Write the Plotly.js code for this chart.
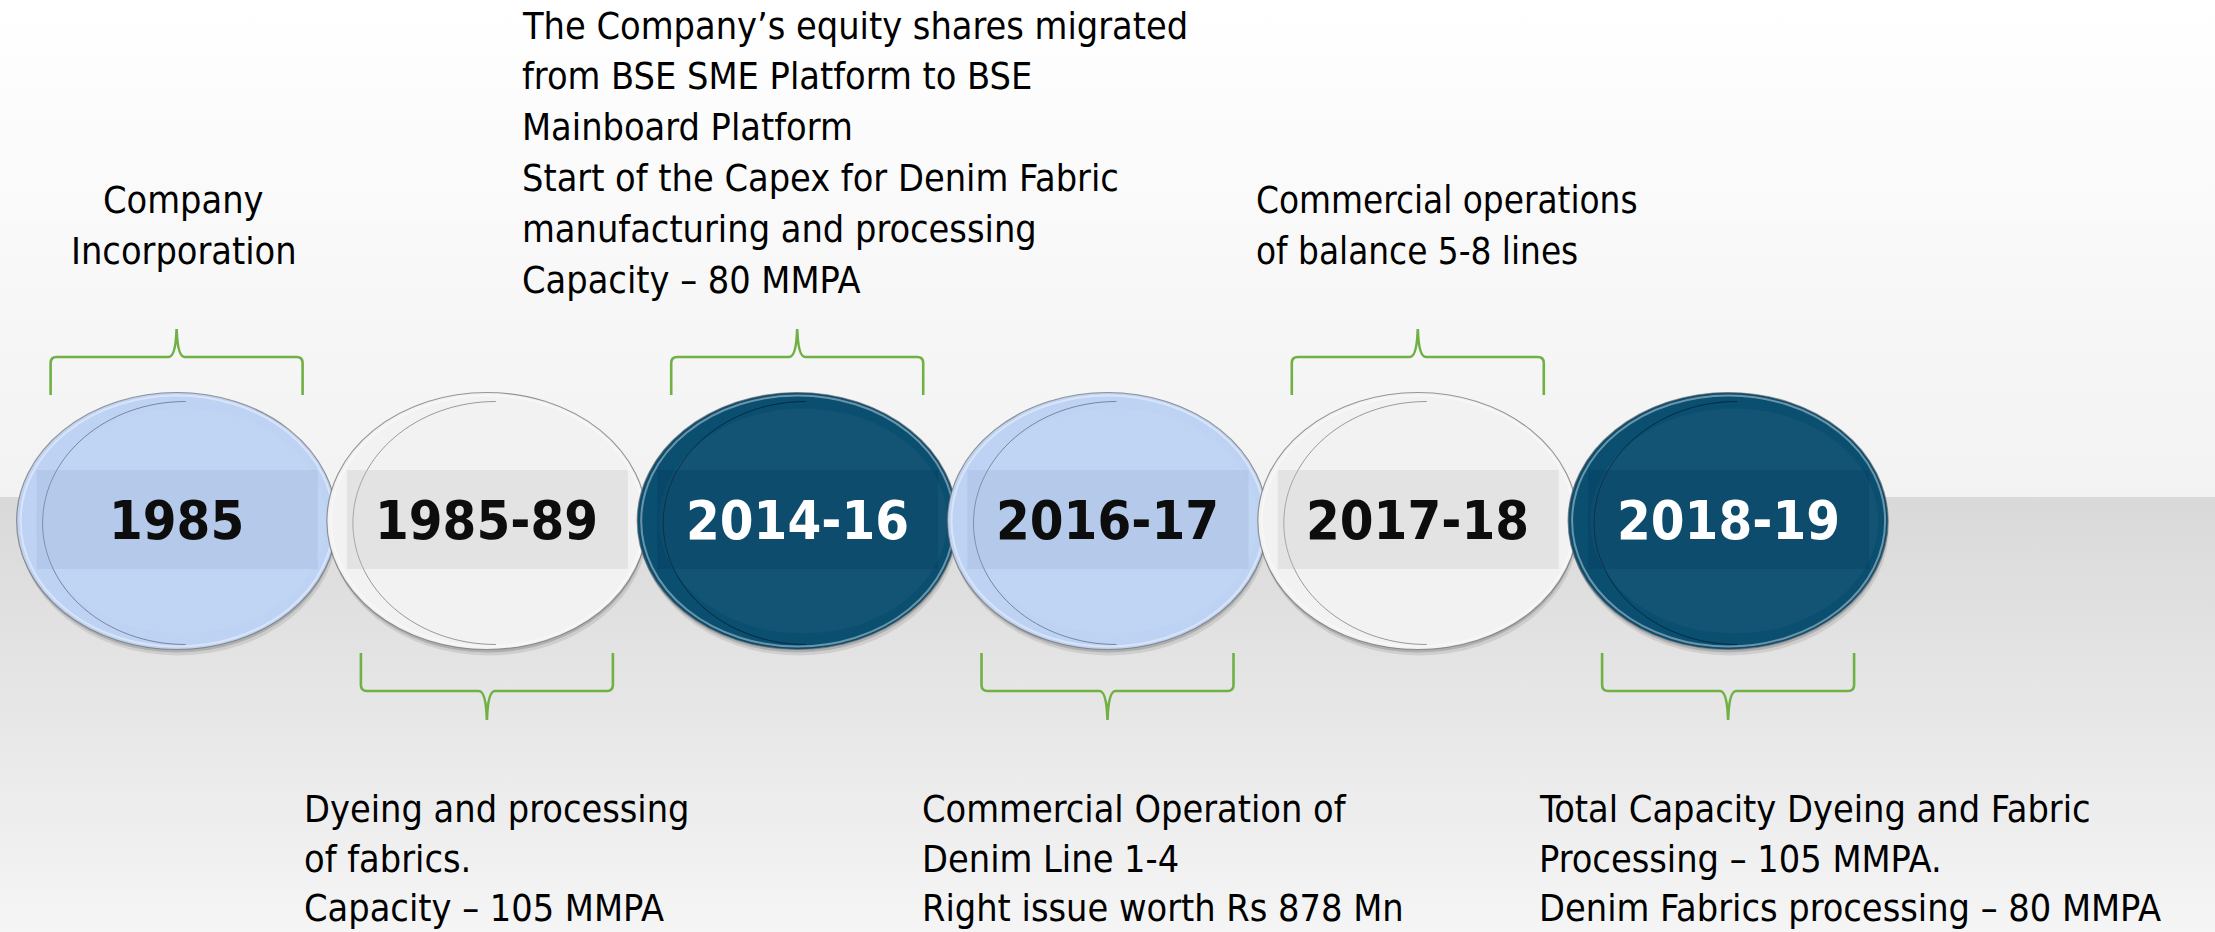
<!DOCTYPE html>
<html>
<head>
<meta charset="utf-8">
<script src="https://cdn.plot.ly/plotly-3.0.1.min.js"></script>
<style>
  html, body { margin: 0; padding: 0; background: #ffffff; }
  #chart { width: 2215px; height: 932px; }
</style>
</head>
<body>
<div id="chart"></div>
<script>
// ---------------- data ----------------
const years = ['1985', '1985-89', '2014-16', '2016-17', '2017-18', '2018-19'];
const sides = ['top', 'bottom', 'top', 'bottom', 'top', 'bottom'];
const tones = ['light', 'white', 'dark', 'light', 'white', 'dark'];
const notes = [
  ['Company', 'Incorporation'],
  ['Dyeing and processing', 'of fabrics.', 'Capacity – 105 MMPA'],
  ['The Company’s equity shares migrated', 'from BSE SME Platform to BSE', 'Mainboard Platform',
   'Start of the Capex for Denim Fabric', 'manufacturing and processing', 'Capacity – 80 MMPA'],
  ['Commercial Operation of', 'Denim Line 1-4', 'Right issue worth Rs 878 Mn'],
  ['Commercial operations', 'of balance 5-8 lines'],
  ['Total Capacity Dyeing and Fabric', 'Processing – 105 MMPA.', 'Denim Fabrics processing – 80 MMPA']
];

// ---------------- styles / layout constants ----------------
const W = 2215, H = 932;
const UNIT = 310.3;          // px per milestone step
const FIRST = 176.6;         // px of first milestone centre
const CY = 521;              // circle centre (px from top)
const RX = 160, RY = 128.5;  // ellipse radii (px)
const px = v => v / UNIT;    // px -> x units

const palette = {
  light: { fill: '#bed3f3', band: 'rgba(140,165,205,0.22)', text: '#0d0d0d', inner: 'rgba(60,70,90,0.55)' },
  white: { fill: '#f2f2f2', band: 'rgba(190,190,190,0.28)', text: '#0d0d0d', inner: 'rgba(80,80,80,0.55)' },
  dark:  { fill: '#0a4e70', band: 'rgba(0,50,80,0.22)',     text: '#ffffff', inner: 'rgba(0,20,35,0.6)' }
};
// note placement (px offset of text from circle centre, anchor)
const noteStyle = [
  { dx: 7,    anchor: 'center', font: 'calibri', size: 37.5 },
  { dx: -185, anchor: 'left',   font: 'calibri', size: 37.5 },
  { dx: -277, anchor: 'left',   font: 'calibri', size: 37.5 },
  { dx: -188, anchor: 'left',   font: 'calibri', size: 37.5 },
  { dx: -164, anchor: 'left',   font: 'arialn',  size: 36.5 },
  { dx: -191, anchor: 'left',   font: 'calibri', size: 37.5 }
];
const fonts = {
  calibri: '"DejaVu Sans Condensed", "Liberation Sans Narrow", "Open Sans", sans-serif',
  arialn: '"Liberation Sans Narrow", "DejaVu Sans Condensed", Arial, sans-serif'
};
const GREEN = '#71b045';
const LINE_GAP = 50.9;
const BOTTOM_GAP = 49.5;

const xMin = -FIRST / UNIT, xMax = (W - FIRST) / UNIT;

// ---------------- background ----------------
const traces = [];
traces.push({
  x: [xMin, xMax, xMax, xMin], y: [0, 0, 497, 497],
  fill: 'toself', mode: 'none', hoverinfo: 'skip', showlegend: false,
  fillgradient: { type: 'vertical', start: 0, stop: 497,
    colorscale: [[0, '#ffffff'], [1, '#f2f2f2']] }
});
traces.push({
  x: [xMin, xMax, xMax, xMin], y: [497, 497, H, H],
  fill: 'toself', mode: 'none', hoverinfo: 'skip', showlegend: false,
  fillgradient: { type: 'vertical', start: 497, stop: H,
    colorscale: [[0, '#d9d9d9'], [1, '#f5f5f5']] }
});

// ---------------- shapes ----------------
const shapes = [];
const K = 0.5523;
function halfEllipseLeft(cx, cy, rx, ry) {
  const r = px(rx);
  return `M ${cx},${cy - ry} C ${cx - K * r},${cy - ry} ${cx - r},${cy - K * ry} ${cx - r},${cy} ` +
         `C ${cx - r},${cy + K * ry} ${cx - K * r},${cy + ry} ${cx},${cy + ry}`;
}
function brace(cx, side) {
  const hw = px(126), c = px(6), t = px(8);
  let yEnd, yBar, yTip, s;
  if (side === 'top') { yEnd = 395; yBar = 357; yTip = 329; s = 1; }
  else { yEnd = 653; yBar = 691; yTip = 720; s = -1; }
  return `M ${cx - hw},${yEnd} L ${cx - hw},${yBar + 6 * s} Q ${cx - hw},${yBar} ${cx - hw + c},${yBar} ` +
         `L ${cx - t},${yBar} Q ${cx - px(1)},${yBar} ${cx},${yTip} Q ${cx + px(1)},${yBar} ${cx + t},${yBar} ` +
         `L ${cx + hw - c},${yBar} Q ${cx + hw},${yBar} ${cx + hw},${yBar + 6 * s} L ${cx + hw},${yEnd}`;
}

years.forEach((yr, i) => {
  const p = palette[tones[i]];
  const cx = i;
  // drop shadow
  shapes.push({ type: 'circle', xref: 'x', yref: 'y', layer: 'above',
    x0: cx - px(RX - 2), x1: cx + px(RX + 1), y0: CY - RY + 7, y1: CY + RY + 6,
    fillcolor: 'rgba(0,0,0,0.09)', line: { width: 0 } });
  shapes.push({ type: 'circle', xref: 'x', yref: 'y', layer: 'above',
    x0: cx - px(RX - 1), x1: cx + px(RX), y0: CY - RY + 3, y1: CY + RY + 3,
    fillcolor: 'rgba(0,0,0,0.15)', line: { width: 0 } });
  // body
  shapes.push({ type: 'circle', xref: 'x', yref: 'y', layer: 'above',
    x0: cx - px(RX), x1: cx + px(RX), y0: CY - RY, y1: CY + RY,
    fillcolor: p.fill, line: { color: 'rgba(110,110,110,0.7)', width: 1.2 } });
  // glossy rim
  shapes.push({ type: 'circle', xref: 'x', yref: 'y', layer: 'above',
    x0: cx - px(RX - 4), x1: cx + px(RX - 3), y0: CY - RY + 3, y1: CY + RY - 3,
    fillcolor: 'rgba(0,0,0,0)', line: { color: 'rgba(255,255,255,0.4)', width: 2 } });
  // inner arc near left edge
  shapes.push({ type: 'path', xref: 'x', yref: 'y', layer: 'above',
    path: halfEllipseLeft(cx + px(9), CY + 2, RX - 17, RY - 7),
    line: { color: p.inner, width: 1 } });
  // subtle inner highlight disc
  shapes.push({ type: 'circle', xref: 'x', yref: 'y', layer: 'above',
    x0: cx - px(RX - 22), x1: cx + px(RX - 10), y0: CY - RY + 16, y1: CY + RY - 16,
    fillcolor: 'rgba(255,255,255,0.04)', line: { width: 0 } });
  // label band
  shapes.push({ type: 'rect', xref: 'x', yref: 'y', layer: 'above',
    x0: cx - px(140), x1: cx + px(141), y0: CY - 51, y1: CY + 48,
    fillcolor: p.band, line: { width: 0 } });
  // brace
  shapes.push({ type: 'path', xref: 'x', yref: 'y', layer: 'above',
    path: brace(cx, sides[i]), line: { color: GREEN, width: 2.6 } });
});

// ---------------- annotations ----------------
const annotations = [];
// year labels
years.forEach((yr, i) => {
  annotations.push({
    x: i, y: CY - 1, xref: 'x', yref: 'y', text: yr, showarrow: false,
    xanchor: 'center', yanchor: 'middle',
    font: { family: fonts.calibri, size: 54, weight: 'bold', color: palette[tones[i]].text }
  });
});
// notes
notes.forEach((lines, i) => {
  const st = noteStyle[i];
  const n = lines.length;
  let firstY, gap;
  if (sides[i] === 'top') {
    const lastY = (n > 3) ? 280 : 251;
    gap = LINE_GAP;
    firstY = lastY - (n - 1) * gap;
  } else {
    gap = BOTTOM_GAP;
    firstY = 809;
  }
  lines.forEach((ln, k) => {
    annotations.push({
      x: i + px(st.dx), y: firstY + k * gap, xref: 'x', yref: 'y',
      text: ln, showarrow: false, xanchor: st.anchor, yanchor: 'middle',
      align: st.anchor === 'center' ? 'center' : 'left',
      font: { family: fonts[st.font], size: st.size, color: '#000000' }
    });
  });
});

const layout = {
  width: W, height: H,
  margin: { l: 0, r: 0, t: 0, b: 0, pad: 0 },
  paper_bgcolor: '#ffffff', plot_bgcolor: '#ffffff',
  xaxis: { range: [xMin, xMax], visible: false, fixedrange: true },
  yaxis: { range: [H, 0], visible: false, fixedrange: true },
  shapes: shapes,
  annotations: annotations,
  showlegend: false
};

Plotly.newPlot('chart', traces, layout, { staticPlot: true, displayModeBar: false });
</script>
</body>
</html>
